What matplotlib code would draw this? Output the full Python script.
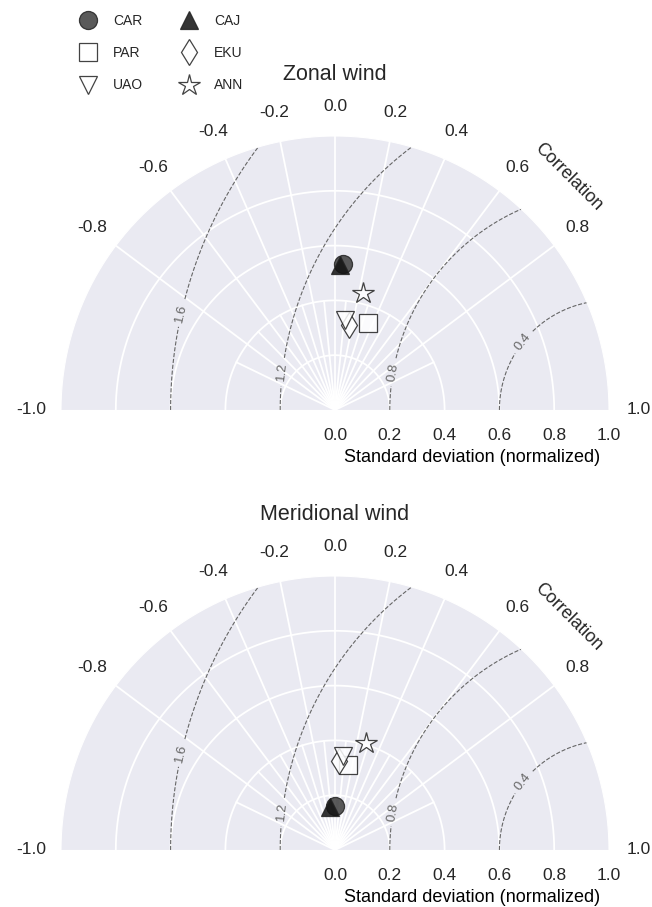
import numpy as np
import matplotlib
matplotlib.use('Agg')
import matplotlib.pyplot as plt
from matplotlib.projections import PolarAxes
import mpl_toolkits.axisartist.floating_axes as FA
import mpl_toolkits.axisartist.grid_finder as GF

plt.rcParams['font.family'] = ['Liberation Sans', 'DejaVu Sans']
plt.rcParams['grid.color'] = 'white'
plt.rcParams['grid.linewidth'] = 1.3
plt.rcParams['axes.edgecolor'] = 'white'
plt.rcParams['text.color'] = '#262626'

# ---- data ----
stations = ['CAR', 'CAJ', 'PAR', 'EKU', 'UAO', 'ANN']
zonal_std = [0.532, 0.529, 0.340, 0.316, 0.332, 0.439]
zonal_corr = [0.055, 0.032, 0.358, 0.166, 0.110, 0.231]
merid_std = [0.159, 0.159, 0.313, 0.326, 0.343, 0.407]
merid_corr = [0.000, -0.115, 0.156, 0.048, 0.086, 0.276]
titles = ['Zonal wind', 'Meridional wind']
corr_ticks = [-1.0, -0.8, -0.6, -0.4, -0.2, 0.0, 0.2, 0.4, 0.6, 0.8, 1.0]
std_ticks = [0.0, 0.2, 0.4, 0.6, 0.8, 1.0]
minor_corr = [-0.9, -0.7, -0.5, -0.3, -0.1, 0.1, 0.3, 0.5, 0.7, 0.9]
rms_levels = [0.4, 0.8, 1.2, 1.6]
# contour label positions (theta deg, r)
rms_label_pos = [(19.5, 0.734), (33.6, 0.251), (144.4, 0.239), (147.8, 0.667)]

markers = ['o', '^', 's', 'd', 'v', '*']
faces = ['#3d3d3d', '#111111', 'white', 'white', 'white', 'white']
sizes = [13, 13, 13, 13, 13, 16]

W, H = 652, 907
fig = plt.figure(figsize=(W / 100, H / 100), dpi=100)


def taylor(rect, std, corr, title):
    tr = PolarAxes.PolarTransform(apply_theta_transforms=False)
    tlocs = np.arccos(corr_ticks)
    gl1 = GF.FixedLocator(tlocs)
    tf1 = GF.DictFormatter(dict(zip(tlocs, [f"{v:.1f}" for v in corr_ticks])))
    gl2 = GF.FixedLocator(std_ticks)
    tf2 = GF.DictFormatter({v: f"{v:.1f}" for v in std_ticks})
    gh = FA.GridHelperCurveLinear(tr, extremes=(0, np.pi, 0, 1.0),
                                  grid_locator1=gl1, tick_formatter1=tf1,
                                  grid_locator2=gl2, tick_formatter2=tf2)
    ax = FA.FloatingAxes(fig, rect, grid_helper=gh)
    fig.add_axes(ax)
    ax.patch.set_facecolor('#EAEAF2')

    ax.axis["top"].set_axis_direction("bottom")
    ax.axis["top"].toggle(ticklabels=False, label=False)

    ax.axis["left"].set_axis_direction("bottom")
    ax.axis["left"].label.set_text("Standard deviation (normalized)")
    ax.axis["left"].label.set_fontsize(13)
    ax.axis["left"].label.set_pad(6.5)
    ax.axis["left"].major_ticklabels.set_fontsize(12.5)
    ax.axis["left"].major_ticklabels.set_pad(13.3)

    ax.axis["right"].set_axis_direction("top")
    ax.axis["right"].toggle(ticklabels=False)
    ax.axis["bottom"].set_visible(False)
    for k in ["top", "left", "right"]:
        ax.axis[k].major_ticks.set_ticksize(0)
        ax.axis[k].minor_ticks.set_ticksize(0)
        ax.axis[k].line.set_color('white')
    ax.grid(True)

    aux = ax.get_aux_axes(tr)
    for c in minor_corr:
        t = np.arccos(c)
        aux.plot([t, t], [0, 0.4], color='white', lw=1.3, zorder=1)

    # correlation tick labels (horizontal)
    for c in corr_ticks:
        t = np.arccos(c)
        aux.text(t, 1.108, f"{c:.1f}", ha='center', va='center',
                 fontsize=12.5, clip_on=False)

    rs, ts = np.meshgrid(np.linspace(0, 1, 200), np.linspace(0, np.pi, 300))
    rms = np.sqrt(1 + rs ** 2 - 2 * rs * np.cos(ts))
    cs = aux.contour(ts, rs, rms, levels=rms_levels, colors='#666666',
                     linestyles='--', linewidths=0.8, zorder=2)
    aux.clabel(cs, fmt='%.1f', fontsize=9.5, inline=True,
               manual=[(np.deg2rad(a), r) for a, r in rms_label_pos])

    handles = []
    for i, name in enumerate(stations):
        h, = aux.plot(np.arccos(corr[i]), std[i], ls='', marker=markers[i],
                      ms=sizes[i], mfc=faces[i], mec='#222222', mew=0.9,
                      alpha=0.85, label=name, zorder=5)
        handles.append(h)

    ax.text(0, 1.223, title, ha='center', va='center', fontsize=15.5)
    th = np.deg2rad(45)
    ax.text(1.205 * np.cos(th), 1.205 * np.sin(th), 'Correlation',
            rotation=-45, ha='center', va='center', fontsize=13,
            rotation_mode='anchor')
    return ax, handles


R = 274.0          # radius in pixels
CX = 335.0         # centre x in pixels
left = (CX - 1.02 * R) / W
width = 2.04 * R / W
height = 1.02 * R / H


def bottom(base_y):
    return (H - (base_y + 0.01 * R)) / H


ax1, handles = taylor([left, bottom(410), width, height], zonal_std, zonal_corr, titles[0])
ax2, _ = taylor([left, bottom(850), width, height], merid_std, merid_corr, titles[1])

order = [0, 2, 4, 1, 3, 5]
fig.legend([handles[i] for i in order], [stations[i] for i in order],
           ncol=2, loc='upper left', bbox_to_anchor=(71 / W - 0.01, 0.9956),
           frameon=False, fontsize=10, labelspacing=1.32, columnspacing=2.3,
           handletextpad=0.8, borderaxespad=0.3)

fig.savefig('out.png', dpi=100)
